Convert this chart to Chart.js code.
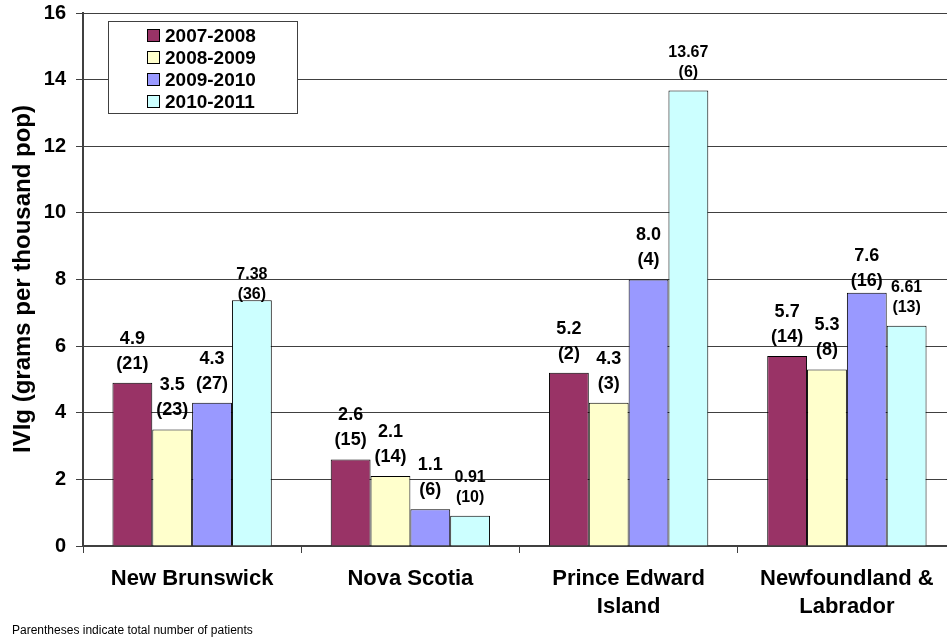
<!DOCTYPE html>
<html>
<head>
<meta charset="utf-8">
<script src="https://cdn.jsdelivr.net/npm/chart.js@4.4.0/dist/chart.umd.min.js"></script>
<style>
  html, body { margin: 0; padding: 0; background: #fff; overflow: hidden; }
  #wrap { width: 956px; height: 643px; position: relative; }
</style>
</head>
<body>
<div id="wrap"><canvas id="ivigChart"></canvas></div>
<script>
// provinces on the x axis (multi-line labels)
const provinces = [["New Brunswick"], ["Nova Scotia"], ["Prince Edward", "Island"], ["Newfoundland &", "Labrador"]];
const seasons = ["2007-2008", "2008-2009", "2009-2010", "2010-2011"];

// IVIg use, grams per thousand population
const ivig0708 = [4.9, 2.6, 5.2, 5.7];
const ivig0809 = [3.5, 2.1, 4.3, 5.3];
const ivig0910 = [4.3, 1.1, 8.0, 7.6];
const ivig1011 = [7.38, 0.91, 13.67, 6.61];

// total number of patients (shown in parentheses)
const patients0708 = [21, 15, 2, 14];
const patients0809 = [23, 14, 3, 8];
const patients0910 = [27, 6, 4, 16];
const patients1011 = [36, 10, 6, 13];

const yTicks = [0, 2, 4, 6, 8, 10, 12, 14, 16];

const FONT = "'Liberation Sans', Arial, sans-serif";
Chart.defaults.font.family = FONT;
Chart.defaults.color = "#000";

const colors = ["#993366", "#FFFFCC", "#9999FF", "#CCFFFF"];
const series = [ivig0708, ivig0809, ivig0910, ivig1011];
const counts = [patients0708, patients0809, patients0910, patients1011];

// two-line value labels above each bar: "4.9" / "(21)"
const barLabels = {
  id: "barLabels",
  afterDatasetsDraw(chart) {
    const ctx = chart.ctx;
    chart.data.datasets.forEach((ds, di) => {
      const meta = chart.getDatasetMeta(di);
      const small = di === 3;
      const size = small ? 16 : 18;
      const lineGap = small ? 20 : 25;
      meta.data.forEach((bar, i) => {
        const v = ds.data[i];
        const text = small ? v.toFixed(2) : v.toFixed(1);
        let lift = small ? 18 : 19;
        if (di === 3 && i === 0) lift = 6;   // 7.38 sits on its bar
        if (di === 2 && i === 3) lift = 12;  // 7.6 squeezed under the 8 line
        const y2 = bar.y - lift;
        ctx.save();
        ctx.font = "bold " + size + "px " + FONT;
        ctx.fillStyle = "#000";
        ctx.textAlign = "center";
        ctx.textBaseline = "middle";
        ctx.fillText(text, bar.x, y2 - lineGap);
        ctx.fillText("(" + ds.patients[i] + ")", bar.x, y2);
        ctx.restore();
      });
    });
  }
};

// boxed legend inside the plot, axis title and footnote
const decorations = {
  id: "decorations",
  afterDraw(chart) {
    const ctx = chart.ctx;
    ctx.save();
    ctx.fillStyle = "#fff";
    ctx.fillRect(108, 21, 189, 92);
    ctx.strokeStyle = "#404040";
    ctx.lineWidth = 1;
    ctx.strokeRect(108.5, 21.5, 189, 92);
    ctx.font = "bold 19px " + FONT;
    ctx.textAlign = "left";
    ctx.textBaseline = "middle";
    chart.data.datasets.forEach((ds, i) => {
      const cy = 35.5 + i * 22;
      ctx.fillStyle = ds.backgroundColor;
      ctx.fillRect(147, cy - 6.5, 13, 13);
      ctx.strokeStyle = "#000";
      ctx.strokeRect(147.5, cy - 6, 12, 12);
      ctx.fillStyle = "#000";
      ctx.fillText(ds.label, 165, cy + 1);
    });

    ctx.translate(23, 279);
    ctx.rotate(-Math.PI / 2);
    ctx.textAlign = "center";
    ctx.font = "bold 24px " + FONT;
    ctx.fillText("IVIg (grams per thousand pop)", 0, 0);
    ctx.restore();

    ctx.save();
    ctx.font = "12px " + FONT;
    ctx.fillStyle = "#000";
    ctx.textAlign = "left";
    ctx.textBaseline = "middle";
    ctx.fillText("Parentheses indicate total number of patients", 12, 631);
    ctx.restore();
  }
};

new Chart(document.getElementById("ivigChart"), {
  type: "bar",
  data: {
    labels: provinces,
    datasets: seasons.map((s, i) => ({
      label: s,
      data: series[i],
      patients: counts[i],
      backgroundColor: colors[i],
      borderColor: "#000",
      borderWidth: 1,
      categoryPercentage: 0.73,
      barPercentage: 1.0,
    })),
  },
  options: {
    responsive: true,
    maintainAspectRatio: false,
    animation: false,
    layout: { padding: { top: 13, right: 0, bottom: 0, left: 0 } },
    plugins: {
      legend: { display: false },
      tooltip: { enabled: false },
    },
    scales: {
      x: {
        grid: {
          display: true,
          drawOnChartArea: false,
          drawTicks: true,
          tickLength: 7,
          color: "#404040",
          offset: true,
        },
        border: { color: "#404040", width: 2 },
        ticks: {
          font: { size: 22, weight: "bold", lineHeight: 1.27 },
          color: "#000",
          padding: 12,
          maxRotation: 0,
          autoSkip: false,
        },
        afterFit(scale) {
          scale.height = 97;
          scale.paddingLeft = 0;
          scale.paddingRight = 0;
        },
      },
      y: {
        min: 0,
        max: 16,
        afterBuildTicks(scale) { scale.ticks = yTicks.map((v) => ({ value: v })); },
        grid: { color: "#404040", lineWidth: 1, tickLength: 7 },
        border: { color: "#404040", width: 2 },
        ticks: {
          font: { size: 20, weight: "bold" },
          color: "#000",
          padding: 10,
        },
        afterFit(scale) {
          scale.width = 83;
          scale.paddingTop = 0;
          scale.paddingBottom = 0;
        },
      },
    },
  },
  plugins: [barLabels, decorations],
});
</script>
</body>
</html>
